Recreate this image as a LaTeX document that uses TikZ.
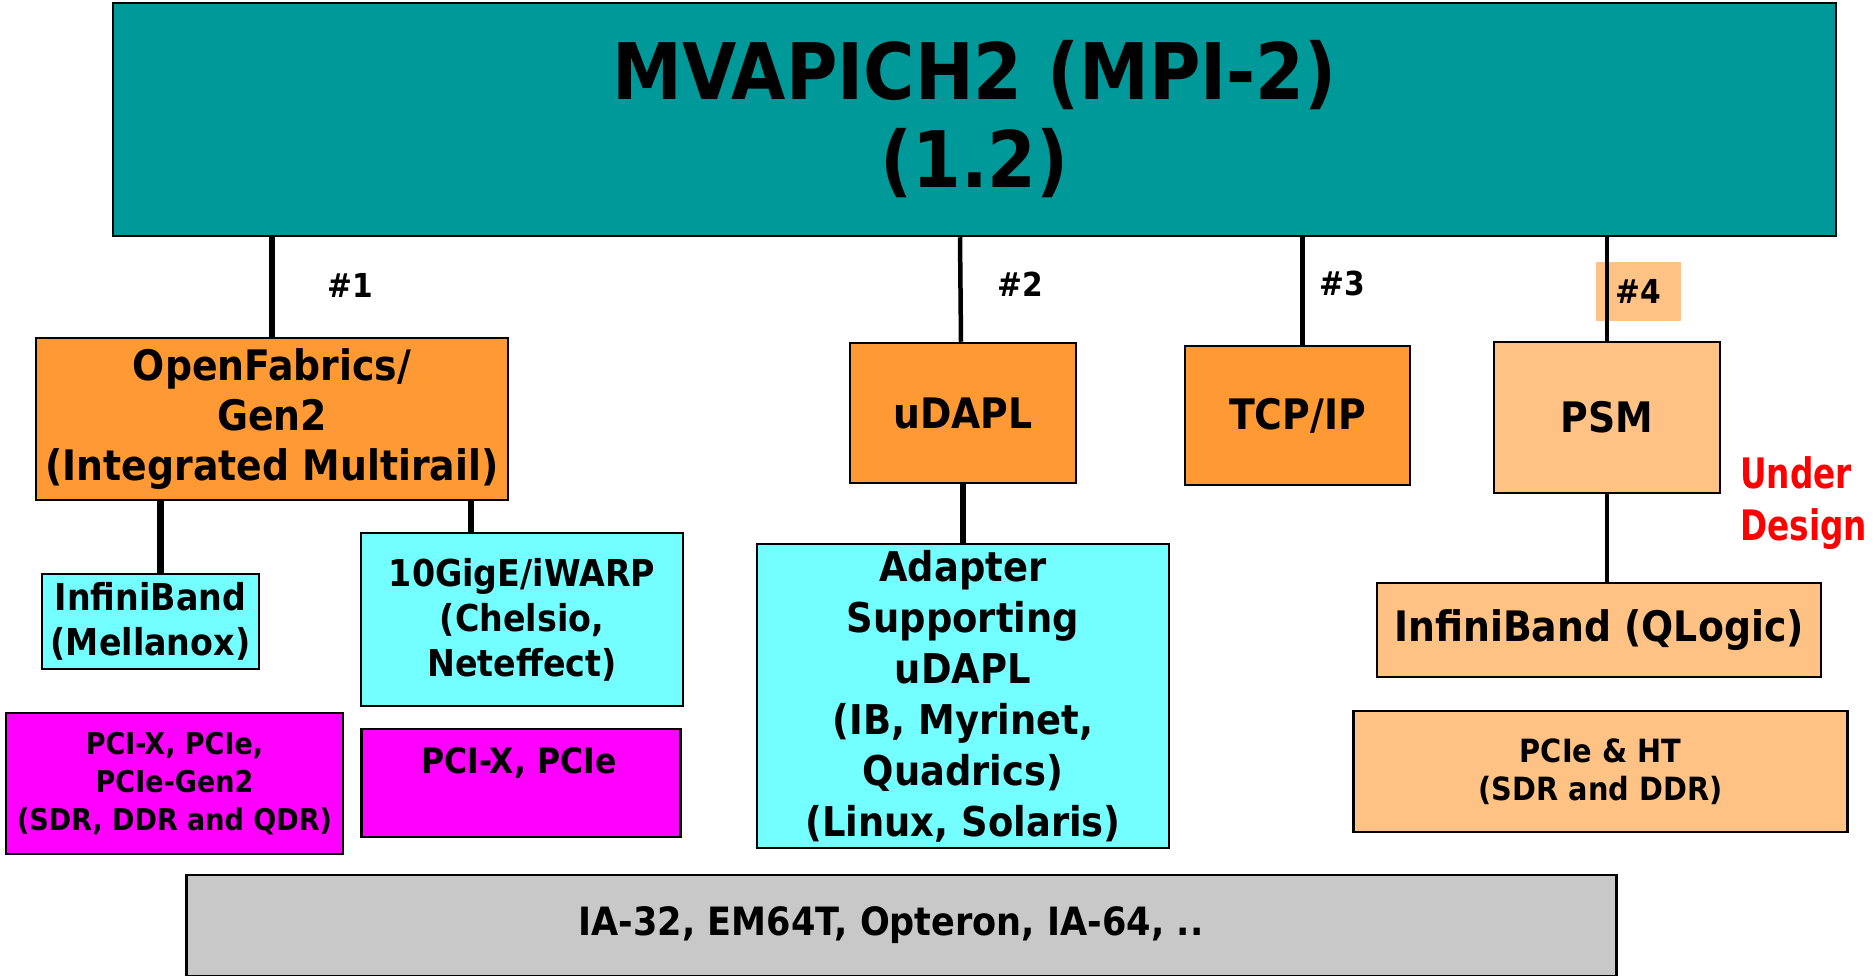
\documentclass[tikz,border=0pt]{standalone}
\usepackage{fontspec}
\setmainfont{DejaVu Sans}[FakeStretch=0.9]
\newfontfamily\narrowfont{DejaVu Sans}[FakeStretch=0.78]
\usepackage{tikz}
\usetikzlibrary{positioning}

% Couleurs
\definecolor{mvteal}{HTML}{009999}
\definecolor{mvorange}{HTML}{FF9933}
\definecolor{mvpeach}{HTML}{FFC285}
\definecolor{mvcyan}{HTML}{73FFFF}
\definecolor{mvmagenta}{HTML}{FF00FF}
\definecolor{mvgrey}{HTML}{C8C8C8}

\newcommand{\fsz}[2]{\fontsize{#1}{#2}\selectfont\bfseries}

\begin{document}
\begin{tikzpicture}[x=1pt, y=-1pt,
    box/.style={draw=black, line width=2.5pt, align=center, inner sep=0pt},
    link/.style={line width=6.5pt},
    thinlink/.style={line width=4.5pt},
    tag/.style={font=\fsz{33}{40}, inner sep=0pt}]
    \useasboundingbox (0,0) rectangle (1875,976);

    % Boite principale
    \node[box, fill=mvteal, minimum width=1723, minimum height=233, font=\fsz{78}{88}] (mpi) at (974.5,119.5) {MVAPICH2 (MPI-2)\\(1.2)};

    % Interfaces
    \node[box, fill=mvorange, minimum width=472, minimum height=162, font=\fsz{42}{50}] (of) at (272,419) {OpenFabrics/\\Gen2\\(Integrated Multirail)};
    \node[box, fill=mvorange, minimum width=226, minimum height=140, font=\fsz{42}{50}] (udapl) at (963,413) {uDAPL};
    \node[box, fill=mvorange, minimum width=225, minimum height=139, font=\fsz{42}{50}] (tcp) at (1297.5,415.5) {TCP/IP};
    \node[box, fill=mvpeach, minimum width=226, minimum height=151, font=\fsz{42}{50}] (psm) at (1607,417.5) {PSM};

    % Reseaux
    \node[box, fill=mvcyan, minimum width=217, minimum height=95, font=\fsz{37}{45}] (mlx) at (150.5,621.5) {InfiniBand\\(Mellanox)};
    \node[box, fill=mvcyan, minimum width=322, minimum height=173, font=\fsz{37}{45}] (gige) at (522,619.5) {10GigE/iWARP\\(Chelsio,\\Neteffect)};
    \node[box, fill=mvcyan, minimum width=412, minimum height=304, font=\fsz{41}{51}] (adapter) at (963,696) {Adapter\\Supporting\\uDAPL\\(IB, Myrinet,\\Quadrics)\\(Linux, Solaris)};
    \node[box, fill=mvpeach, minimum width=444, minimum height=94, font=\fsz{42}{50}] (qlogic) at (1599,630) {InfiniBand (QLogic)};

    % Bus
    \node[box, fill=mvmagenta, minimum width=337, minimum height=141, font=\fsz{30}{38}] (busmlx) at (174.5,783.5) {PCI-X, PCIe,\\PCIe-Gen2\\(SDR, DDR and QDR)};
    \node[box, fill=mvmagenta, minimum width=319, minimum height=108] (busgige) at (521,783) {};
    \node[font=\fsz{35}{38}, inner sep=0pt] (busgigetext) at (519,763) {PCI-X, PCIe};
    \node[box, fill=mvpeach, minimum width=494, minimum height=121, font=\fsz{32}{38}] (buspsm) at (1600.5,771.5) {PCIe \& HT\\(SDR and DDR)};

    % Processeurs
    \node[box, fill=mvgrey, minimum width=1430, minimum height=101] (cpu) at (901.5,925.5) {};
    \node[font=\fsz{39}{40}, inner sep=0pt] (cputext) at (891,925) {IA-32, EM64T, Opteron, IA-64, ..};

    % Numeros
    \node[tag] (n1) at (350,285) {\#1};
    \node[tag] (n2) at (1020,284) {\#2};
    \node[tag] (n3) at (1342,283) {\#3};
    \node[tag, fill=mvpeach, minimum width=85, minimum height=59] (n4) at (1638.5,291.5) {\#4};

    % Liens
    \draw[link] (mpi.south -| of.north) -- (of.north);
    \draw[thinlink] ([xshift=-3]udapl.north |- mpi.south) -- ([xshift=-2]udapl.north);
    \draw[thinlink] ([xshift=5]tcp.north |- mpi.south) -- ([xshift=5]tcp.north);
    \draw[thinlink] (mpi.south -| psm.north) -- (psm.north);
    \draw[link] ([xshift=10]mlx.north |- of.south) -- ([xshift=10]mlx.north);
    \draw[link] ([xshift=-51]gige.north |- of.south) -- ([xshift=-51]gige.north);
    \draw[link] (udapl.south) -- (udapl.south |- adapter.north);
    \draw[thinlink] (psm.south) -- (psm.south |- qlogic.north);

    % Statut
    \node[anchor=west, align=left, text=red, inner sep=0pt, font=\narrowfont\fsz{42}{52}] (status) at (1740,503) {Under\\Design};
\end{tikzpicture}
\end{document}
